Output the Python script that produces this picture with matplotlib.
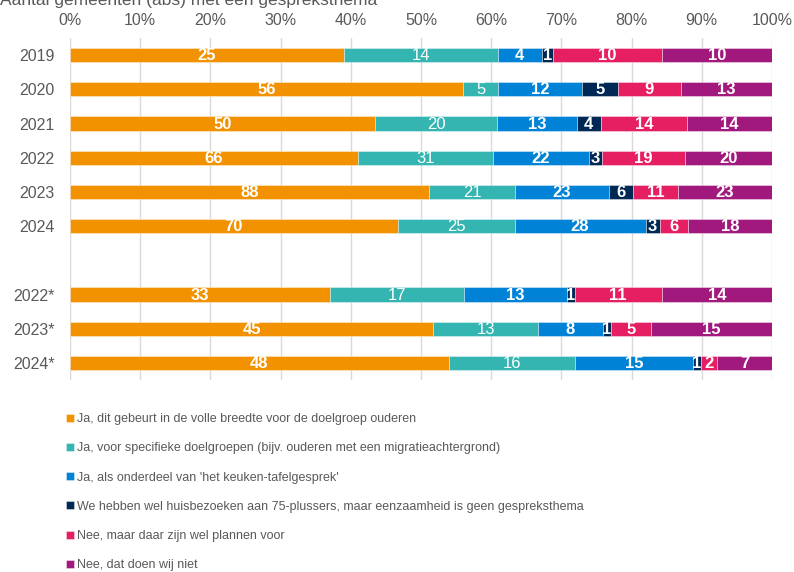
import matplotlib
matplotlib.use("Agg")
import matplotlib.pyplot as plt
import numpy as np

plt.rcParams['font.family'] = ['Liberation Sans', 'DejaVu Sans']

years = ["2019", "2020", "2021", "2022", "2023", "2024", "2022*", "2023*", "2024*"]
series_names = [
    "Ja, dit gebeurt in de volle breedte voor de doelgroep ouderen",
    "Ja, voor specifieke doelgroepen (bijv. ouderen met een migratieachtergrond)",
    "Ja, als onderdeel van 'het keuken-tafelgesprek'",
    "We hebben wel huisbezoeken aan 75-plussers, maar eenzaamheid is geen gespreksthema",
    "Nee, maar daar zijn wel plannen voor",
    "Nee, dat doen wij niet",
]
volle_breedte = [25, 56, 50, 66, 88, 70, 33, 45, 48]
specifiek = [14, 5, 20, 31, 21, 25, 17, 13, 16]
keukentafel = [4, 12, 13, 22, 23, 28, 13, 8, 15]
geen_thema = [1, 5, 4, 3, 6, 3, 1, 1, 1]
plannen = [10, 9, 14, 19, 11, 6, 11, 5, 2]
niet = [10, 13, 14, 20, 23, 18, 14, 15, 7]
colors = ["#F39200", "#35B5B1", "#0082D6", "#002855", "#E61F62", "#A2197E"]
title = "Aantal gemeenten (abs) met een gespreksthema"

series = [volle_breedte, specifiek, keukentafel, geen_thema, plannen, niet]
data = np.array(series, dtype=float)
totals = data.sum(axis=0)
pct = data / totals * 100

positions = np.array([0, 1, 2, 3, 4, 5, 7, 8, 9], dtype=float)

fig = plt.figure(figsize=(7.94, 5.72), dpi=100)
ax = fig.add_axes([70/794, 1-380/572, 702/794, 342/572])

left = np.zeros(len(years))
handles = []
for i, (vals, p) in enumerate(zip(series, pct)):
    bars = ax.barh(positions, p, left=left, height=0.41, color=colors[i],
                   edgecolor=(1, 1, 1, 0.45), linewidth=0.6, zorder=3,
                   label=series_names[i])
    handles.append(bars)
    for y, l, w, v in zip(positions, left, p, vals):
        ax.text(l + w/2, y + 0.02, str(v), ha='center', va='center', color='white',
                fontsize=12, fontweight='normal' if i == 1 else 'bold', zorder=4)
    left += p

ax.set_xlim(0, 100)
ax.set_ylim(9.5, -0.5)
ax.set_xticks(np.arange(0, 101, 10))
ax.set_xticklabels([f"{t}%" for t in range(0, 101, 10)])
ax.xaxis.tick_top()
ax.set_yticks(positions)
ax.set_yticklabels(years)
ax.tick_params(axis='both', length=0, labelsize=11.5, colors='#595959')
ax.tick_params(axis='y', pad=11)
ax.tick_params(axis='x', pad=7.5)
ax.grid(axis='x', color='#d9d9d9', linewidth=1, zorder=0)
for s in ax.spines.values():
    s.set_visible(False)

fig.text(0.0, 1 - 4.5/572, title, fontsize=12.5, color='#595959', va='baseline', ha='left')

fig.legend(handles=handles, labels=series_names, loc='upper left',
           bbox_to_anchor=(66/794, 1 - 413/572), frameon=False,
           prop={'size': 9.0},
           labelcolor='#595959', handlelength=0.6, handleheight=0.6,
           handletextpad=0.25, labelspacing=1.38, borderaxespad=0, borderpad=0)

fig.savefig("out.png", dpi=100)
